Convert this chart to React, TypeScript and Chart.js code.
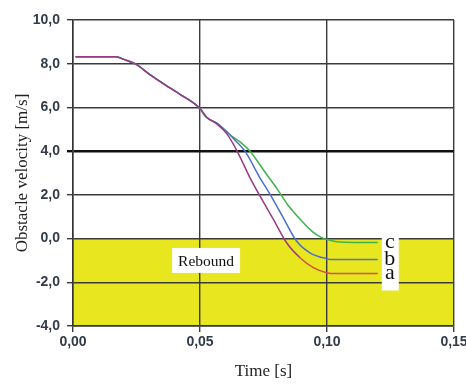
import React, { useEffect, useRef } from 'react';
import { Chart, registerables } from 'chart.js';

Chart.register(...registerables);

// ---- data ----
const X_TICKS = [0, 0.05, 0.1, 0.15];
const Y_TICKS = [-4, -2, 0, 2, 4, 6, 8, 10];

const TIME_A = [0.001, 0.017, 0.02, 0.0244, 0.0303, 0.036, 0.0421, 0.05, 0.0526, 0.0566, 0.0605, 0.0644, 0.0697, 0.0736, 0.0789, 0.0841, 0.0894, 0.0946, 0.0999, 0.103, 0.12];
const VEL_A = [8.32, 8.32, 8.2, 8.0, 7.5, 7.05, 6.6, 5.95, 5.55, 5.25, 4.8, 4.05, 2.78, 1.95, 0.88, -0.19, -0.88, -1.33, -1.56, -1.6, -1.6];

const TIME_B = [0.001, 0.017, 0.02, 0.0244, 0.0303, 0.036, 0.0421, 0.05, 0.0526, 0.0566, 0.0605, 0.0638, 0.0677, 0.0736, 0.0776, 0.0828, 0.088, 0.0933, 0.0999, 0.102, 0.12];
const VEL_B = [8.32, 8.32, 8.2, 8.0, 7.5, 7.05, 6.6, 5.95, 5.55, 5.28, 4.9, 4.5, 4.0, 2.78, 2.02, 0.95, -0.11, -0.65, -0.92, -0.96, -0.96];

const TIME_C = [0.001, 0.017, 0.02, 0.0244, 0.0303, 0.036, 0.0421, 0.05, 0.052, 0.0566, 0.0618, 0.066, 0.0697, 0.0762, 0.0805, 0.0845, 0.0887, 0.094, 0.0979, 0.1, 0.104, 0.107, 0.12];
const VEL_C = [8.32, 8.32, 8.2, 8.0, 7.5, 7.05, 6.6, 5.95, 5.6, 5.28, 4.75, 4.4, 4.0, 2.94, 2.25, 1.55, 0.98, 0.34, 0.04, -0.04, -0.15, -0.17, -0.18];

const SERIES_NAMES = ['a', 'b', 'c'];
const REBOUND_FROM = 0;
const REBOUND_TO = -4;
const REBOUND_LABEL = 'Rebound';
const REBOUND_LABEL_AT = { x: 0.0524, y: -1.0 };
const X_TITLE = 'Time [s]';
const Y_TITLE = 'Obstacle velocity [m/s]';

// ---- styles ----
const YELLOW = '#e8e61e';
const COLOR_A_START = '#9a3a82';
const COLOR_A_END = '#d4503e';
const COLOR_B = '#4a6fd0';
const COLOR_B_END = '#5a78b4';
const COLOR_C = '#3db54a';
const SERIF = '"Liberation Serif", "Times New Roman", serif';
const SANS = '"Liberation Sans", Arial, sans-serif';

const toPts = (t: number[], v: number[]) => t.map((x, i) => ({ x, y: v[i] }));

const annotPlugin = {
  id: 'annot',
  beforeDraw(chart: any) {
    const { ctx, chartArea, scales } = chart;
    const y0 = scales.y.getPixelForValue(REBOUND_FROM);
    const y1 = scales.y.getPixelForValue(REBOUND_TO);
    ctx.save();
    ctx.fillStyle = YELLOW;
    ctx.fillRect(chartArea.left, y0, chartArea.right - chartArea.left, y1 - y0);
    ctx.restore();
  },
  afterDraw(chart: any) {
    const { ctx, scales } = chart;
    ctx.save();
    // Rebound label
    const rx = scales.x.getPixelForValue(REBOUND_LABEL_AT.x);
    const ry = scales.y.getPixelForValue(REBOUND_LABEL_AT.y);
    ctx.font = `15.5px ${SERIF}`;
    const w = ctx.measureText(REBOUND_LABEL).width;
    ctx.fillStyle = '#ffffff';
    ctx.fillRect(rx - w / 2 - 6, ry - 12.5, w + 12, 25);
    ctx.fillStyle = '#111111';
    ctx.textAlign = 'center';
    ctx.textBaseline = 'middle';
    ctx.fillText(REBOUND_LABEL, rx, ry + 1);

    // series end labels
    const ends = chart.data.datasets.map((ds: any) => {
      const last = ds.data[ds.data.length - 1];
      return { name: ds.label, px: scales.x.getPixelForValue(last.x), py: scales.y.getPixelForValue(last.y) };
    });
    const minY = Math.min(...ends.map((e: any) => e.py));
    const maxY = Math.max(...ends.map((e: any) => e.py));
    const maxX = Math.max(...ends.map((e: any) => e.px));
    ctx.fillStyle = '#ffffff';
    ctx.fillRect(maxX + 4, minY - 11, 17, maxY - minY + 28);
    ctx.font = `22px ${SERIF}`;
    ctx.fillStyle = '#111111';
    ctx.textAlign = 'center';
    ctx.textBaseline = 'alphabetic';
    ends.forEach((e: any) => {
      ctx.fillText(e.name, maxX + 12, e.py + 5);
    });
    ctx.restore();
  },
};

export default function App() {
  const ref = useRef<HTMLCanvasElement>(null);
  useEffect(() => {
    if (!ref.current) return;
    const common = {
      borderWidth: 1.5,
      pointRadius: 0,
      cubicInterpolationMode: 'monotone',
      fill: false,
    };
    const chart = new Chart(ref.current, {
      type: 'line',
      data: {
        datasets: [
          {
            ...common,
            label: SERIES_NAMES[0],
            data: toPts(TIME_A, VEL_A),
            borderColor: COLOR_A_START,
            segment: {
              borderColor: (c: any) => (c.p0.parsed.x >= 0.088 ? COLOR_A_END : COLOR_A_START),
            },
          },
          {
            ...common,
            label: SERIES_NAMES[1],
            data: toPts(TIME_B, VEL_B),
            borderColor: COLOR_B,
            segment: {
              borderColor: (c: any) => (c.p0.parsed.x >= 0.097 ? COLOR_B_END : COLOR_B),
            },
          },
          {
            ...common,
            label: SERIES_NAMES[2],
            data: toPts(TIME_C, VEL_C),
            borderColor: COLOR_C,
          },
        ],
      } as any,
      options: {
        animation: false,
        responsive: false,
        devicePixelRatio: 1,
        layout: { padding: { left: 0, top: 20, right: 12, bottom: 0 } },
        plugins: { legend: { display: false }, tooltip: { enabled: false } },
        scales: {
          x: {
            type: 'linear',
            min: 0,
            max: 0.15,
            afterBuildTicks: (s: any) => {
              s.ticks = X_TICKS.map((v) => ({ value: v }));
            },
            afterFit: (s: any) => {
              s.height = 58;
              s.paddingLeft = 0;
              s.paddingRight = 0;
            },
            ticks: {
              autoSkip: false,
              maxRotation: 0,
              padding: 2,
              color: '#333a48',
              font: { family: SANS, size: 14, weight: 'bold' },
              callback: (v: any) => Number(v).toFixed(2).replace('.', ','),
            },
            grid: { color: '#3a3a3a', lineWidth: 1.4, tickLength: 6, drawTicks: true },
            border: { display: true, color: '#333333', width: 1.5 },
            title: {
              display: true,
              text: X_TITLE,
              color: '#222222',
              font: { family: SERIF, size: 17 },
              padding: { top: 0, bottom: 2 },
            },
          },
          y: {
            type: 'linear',
            min: -4,
            max: 10,
            afterBuildTicks: (s: any) => {
              s.ticks = Y_TICKS.map((v) => ({ value: v }));
            },
            afterFit: (s: any) => {
              s.width = 73;
              s.paddingTop = 0;
              s.paddingBottom = 0;
            },
            ticks: {
              autoSkip: false,
              padding: 7,
              color: '#333a48',
              font: { family: SANS, size: 14, weight: 'bold' },
              callback: (v: any) => Number(v).toFixed(1).replace('.', ','),
            },
            grid: {
              color: (c: any) => (c.tick && c.tick.value === 4 ? '#111111' : '#3a3a3a'),
              lineWidth: (c: any) => (c.tick && c.tick.value === 4 ? 2.4 : 1.4),
              tickLength: 6,
              drawTicks: true,
            },
            border: { display: true, color: '#333333', width: 1.5 },
            title: {
              display: true,
              text: Y_TITLE,
              color: '#222222',
              font: { family: SERIF, size: 17 },
              padding: { top: 12, bottom: 0 },
            },
          },
        },
      } as any,
      plugins: [annotPlugin],
    });
    return () => chart.destroy();
  }, []);

  return (
    <div style={{ position: 'absolute', left: 0, top: 0, width: 466, height: 384, background: '#ffffff' }}>
      <canvas ref={ref} width={466} height={384} style={{ width: 466, height: 384 }} />
    </div>
  );
}
